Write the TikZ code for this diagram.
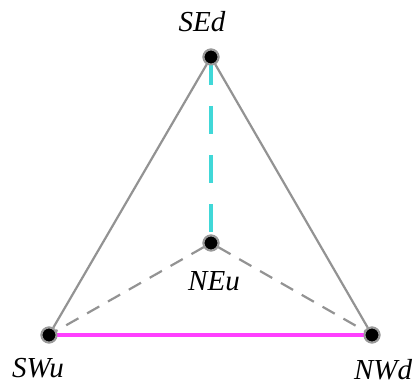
\documentclass[tikz,border=0pt]{standalone}
\usepackage{fontspec}
\setmainfont{Liberation Serif}
\usepackage{tikz}
\usetikzlibrary{positioning,calc}

\begin{document}
\begin{tikzpicture}[
  x=1pt, y=-1pt,
  vtx/.style={circle, fill=black, draw=gray!80, line width=2pt, minimum size=15pt, inner sep=0pt},
  lbl/.style={font=\fontsize{29}{31}\selectfont\itshape, inner sep=0pt},
  edge/.style={gray!85, line width=2.2pt},
  hidden/.style={edge, dash pattern=on 14pt off 10pt},
  cyanedge/.style={color={rgb,255:red,64;green,216;blue,216}, line width=4pt, dash pattern=on 28pt off 21pt},
  magedge/.style={color={rgb,255:red,255;green,64;blue,255}, line width=4pt}
]
\useasboundingbox (0,0) rectangle (420,385);
% vertices
\node[vtx] (sed) at (211,57) {};
\node[vtx] (neu) at (211,243) {};
\node[vtx] (swu) at (49,335) {};
\node[vtx] (nwd) at (372,335) {};
% edges
\draw[edge] (sed) -- (swu);
\draw[edge] (sed) -- (nwd);
\draw[hidden] (neu) -- (swu);
\draw[hidden] (neu) -- (nwd);
\draw[cyanedge] (sed.center) -- (neu.center);
\draw[magedge] (swu.center) -- (nwd.center);
% dots on top
\node[vtx] at (sed) {};
\node[vtx] at (neu) {};
\node[vtx] at (swu) {};
\node[vtx] at (nwd) {};
% labels
\node[lbl] (sedl) at (202,22) {SEd};
\node[lbl] (neul) at (214,281) {NEu};
\node[lbl] (swul) at (38,368) {SWu};
\node[lbl] (nwdl) at (383,370) {NWd};
\end{tikzpicture}
\end{document}
